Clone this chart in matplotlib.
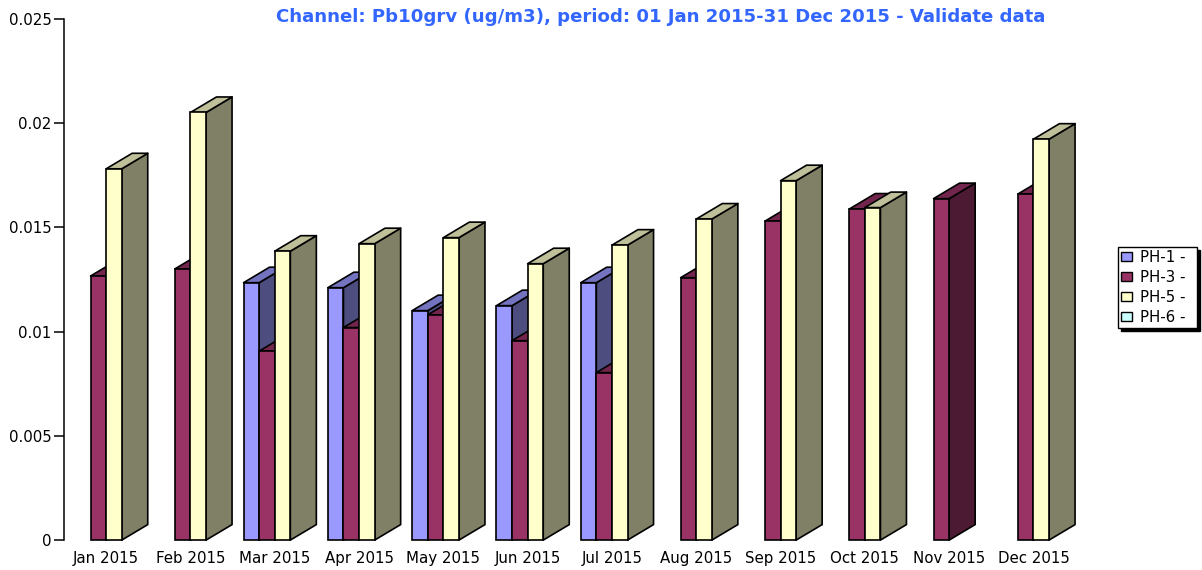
import matplotlib
matplotlib.use("Agg")
import matplotlib.pyplot as plt
from matplotlib.patches import Patch, Polygon

months = ["Jan 2015", "Feb 2015", "Mar 2015", "Apr 2015", "May 2015", "Jun 2015",
          "Jul 2015", "Aug 2015", "Sep 2015", "Oct 2015", "Nov 2015", "Dec 2015"]
ph1 = [None, None, 0.01234, 0.0121, 0.0110, 0.01124, 0.01234, None, None, None, None, None]
ph3 = [0.01266, 0.0130, 0.00906, 0.01019, 0.0108, 0.00956, 0.00803, 0.01258, 0.01529, 0.01587, 0.01637, 0.01659]
ph5 = [0.0178, 0.0205, 0.01385, 0.01421, 0.0145, 0.01325, 0.01414, 0.01539, 0.01723, 0.01594, None, 0.01922]
ph6 = [None] * 12
series_names = ["PH-1 -", "PH-3 -", "PH-5 -", "PH-6 -"]
yticks = [0, 0.005, 0.01, 0.015, 0.02, 0.025]
ytick_labels = ["0", "0.005", "0.01", "0.015", "0.02", "0.025"]
title = "Channel: Pb10grv (ug/m3), period: 01 Jan 2015-31 Dec 2015 - Validate data"

W, H = 1202, 570
fronts = ["#9999ff", "#993366", "#ffffcc", "#ccffff"]
sides = ["#4d4d80", "#4d1a33", "#808066", "#668080"]
tops = ["#7373bf", "#73264d", "#bfbf99", "#99bfbf"]

plt.rcParams["font.family"] = "DejaVu Sans"
fig = plt.figure(figsize=(W / 100, H / 100), dpi=100)
L, R, T, B = 64.0, 1075.6, 18.6, 540.1
ax = fig.add_axes([L / W, 1 - B / H, (R - L) / W, (B - T) / H])
ax.set_xlim(-0.5, 11.5)
ax.set_ylim(0, 0.025)

px_x = 12 / (R - L)
px_y = 0.025 / (B - T)
bw = 15.6 * px_x
dx = 26 * px_x
dy = 15.5 * px_y
lw = 1.2

for k, vals in enumerate([ph1, ph3, ph5, ph6]):
    offset = (k - 2) * bw
    for i, v in enumerate(vals):
        if v is None:
            continue
        x0 = i + offset
        x1 = x0 + bw
        z = 2 + k
        ax.add_patch(Polygon([(x1, 0), (x1 + dx, dy), (x1 + dx, v + dy), (x1, v)],
                             closed=True, facecolor=sides[k], edgecolor="black",
                             linewidth=lw, zorder=z, clip_on=False, joinstyle="round"))
        ax.add_patch(Polygon([(x0, v), (x1, v), (x1 + dx, v + dy), (x0 + dx, v + dy)],
                             closed=True, facecolor=tops[k], edgecolor="black",
                             linewidth=lw, zorder=z, clip_on=False, joinstyle="round"))
        ax.bar(x0, v, width=bw, align="edge", color=fronts[k], edgecolor="black",
               linewidth=lw, zorder=z, clip_on=False)

for s in ["top", "right", "bottom"]:
    ax.spines[s].set_visible(False)
ax.spines["left"].set_linewidth(1.1)
ax.set_yticks(yticks, ytick_labels)
ax.tick_params(axis="y", length=7, width=1.1, pad=2, labelsize=10.8, colors="black")
ax.set_xticks(range(12), months)
ax.tick_params(axis="x", length=0, pad=8, labelsize=10.8)

fig.text(661 / W, 1 - 17 / H, title, color="#3366ff", fontsize=13.1, fontweight="bold",
         ha="center", va="center")

handles = [Patch(facecolor=c, edgecolor="black", linewidth=1.0) for c in fronts]
fig.legend(handles, series_names, loc="upper left", mode="expand",
           bbox_to_anchor=(1118 / W, 1 - 247 / H, 79 / W, 0), bbox_transform=fig.transFigure,
           borderaxespad=0, fontsize=10.8, fancybox=False, framealpha=1, edgecolor="black",
           shadow={"color": "black", "alpha": 1, "ox": 2, "oy": -2}, handlelength=0.7, handleheight=0.55,
           handletextpad=0.55, labelspacing=0.33, borderpad=0.2)

fig.savefig("out.png", dpi=100)
